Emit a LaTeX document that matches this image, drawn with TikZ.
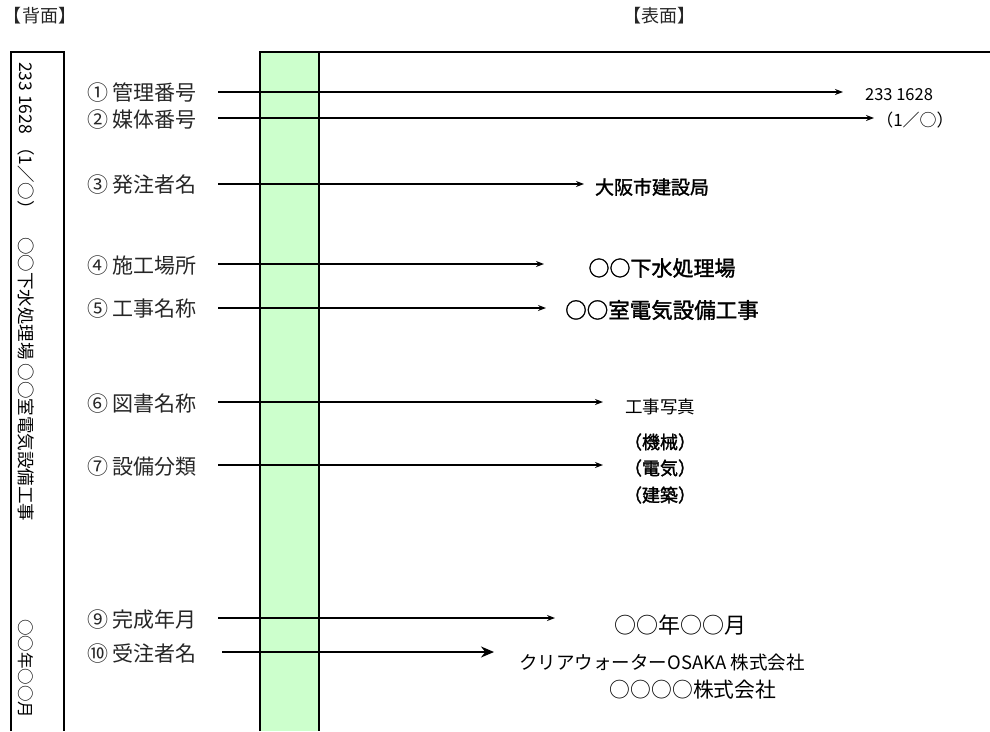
\documentclass[tikz,border=0pt]{standalone}
\usepackage{fontspec}
\setmainfont{Noto Sans CJK JP}
\newfontfamily\jpsemi[FakeBold=1.6]{Noto Sans CJK JP}
\usetikzlibrary{arrows.meta}
\definecolor{stripgreen}{HTML}{CCFFCC}
\begin{document}
\begin{tikzpicture}[x=1pt,y=-1pt,
  hdr/.style={inner sep=0pt, text=black!85, font=\fontsize{18}{20}\selectfont},
  lab/.style={anchor=west, inner sep=0pt, text=black!85, font=\fontsize{21}{24}\selectfont},
  val/.style={inner sep=0pt, font=\fontsize{#1}{#1}\selectfont\jpsemi},
  valn/.style={inner sep=0pt, font=\fontsize{#1}{#1}\selectfont},
  vert/.style={rotate=-90, anchor=west, inner sep=0pt, font=\fontsize{#1}{20}\selectfont},
  arr/.style={line width=1.5pt, -{Stealth[length=8pt,width=6pt]}},
  arrbig/.style={line width=2pt, -{Stealth[length=13pt,width=11pt]}},
  frame/.style={line width=1.5pt}
]
\useasboundingbox (0,0) rectangle (990,731);

% headers
\node[hdr] (hback) at (40,16) {【背面】};
\node[hdr] (hfront) at (659,16) {【表面】};

% back panel
\draw[frame] (11,731) -- (11,52) -- (64,52) -- (64,731);
\node[vert=17.5] (v1) at (26,62) {233 1628 （1／○）};
\node[vert=17.5] (v2) at (26,237) {○○下水処理場 ○○室電気設備工事};
\node[vert=16.5] (v3) at (26,619) {○○年○○月};

% front panel
\fill[stripgreen] (260,52) rectangle (319,731);
\draw[frame] (260,731) -- (260,52) -- (990,52);
\draw[frame] (319,52) -- (319,731);

% labels
\node[lab] (l1) at (87,93) {① 管理番号};
\node[lab] (l2) at (87,120) {② 媒体番号};
\node[lab] (l3) at (87,185) {③ 発注者名};
\node[lab] (l4) at (87,266) {④ 施工場所};
\node[lab] (l5) at (87,309) {⑤ 工事名称};
\node[lab] (l6) at (87,404) {⑥ 図書名称};
\node[lab] (l7) at (87,467) {⑦ 設備分類};
\node[lab] (l9) at (87,620) {⑨ 完成年月};
\node[lab] (l10) at (87,654) {⑩ 受注者名};

% arrow start / end points
\coordinate (s1) at (218,92);  \coordinate (e1) at (843,92);
\coordinate (s2) at (218,118); \coordinate (e2) at (874,118);
\coordinate (s3) at (218,184); \coordinate (e3) at (584,184);
\coordinate (s4) at (218,264); \coordinate (e4) at (544,264);
\coordinate (s5) at (218,308); \coordinate (e5) at (546,308);
\coordinate (s6) at (218,402); \coordinate (e6) at (603,402);
\coordinate (s7) at (218,465); \coordinate (e7) at (603,465);
\coordinate (s9) at (218,618); \coordinate (e9) at (555,618);
\coordinate (s10) at (222,652); \coordinate (e10) at (494,652);

% values
\node[valn=16.5] (r1) at (899,95) {233 1628};
\node[valn=17] (r2) at (915,120) {（1／○）};
\node[val=19] (r3) at (652,187) {大阪市建設局};
\node[val=21] (r4) at (662,268) {○○下水処理場};
\node[val=21.5] (r5) at (662,310) {○○室電気設備工事};
\node[valn=17.5] (r6) at (660,407) {工事写真};
\node[val=18] (r7a) at (660,442) {（機械）};
\node[val=18] (r7b) at (660,468) {（電気）};
\node[val=18] (r7c) at (660,495) {（建築）};
\node[valn=22] (r9) at (680,625) {○○年○○月};
\node[valn=18.5] (r10a) at (662,662) {クリアウォーターOSAKA 株式会社};
\node[valn=20.8] (r10b) at (693,690) {○○○○株式会社};

% connectors
\draw[arr] (s1) -- (e1);
\draw[arr] (s2) -- (e2);
\draw[arr] (s3) -- (e3);
\draw[arr] (s4) -- (e4);
\draw[arr] (s5) -- (e5);
\draw[arr] (s6) -- (e6);
\draw[arr] (s7) -- (e7);
\draw[arr] (s9) -- (e9);
\draw[arrbig] (s10) -- (e10);
\end{tikzpicture}
\end{document}
